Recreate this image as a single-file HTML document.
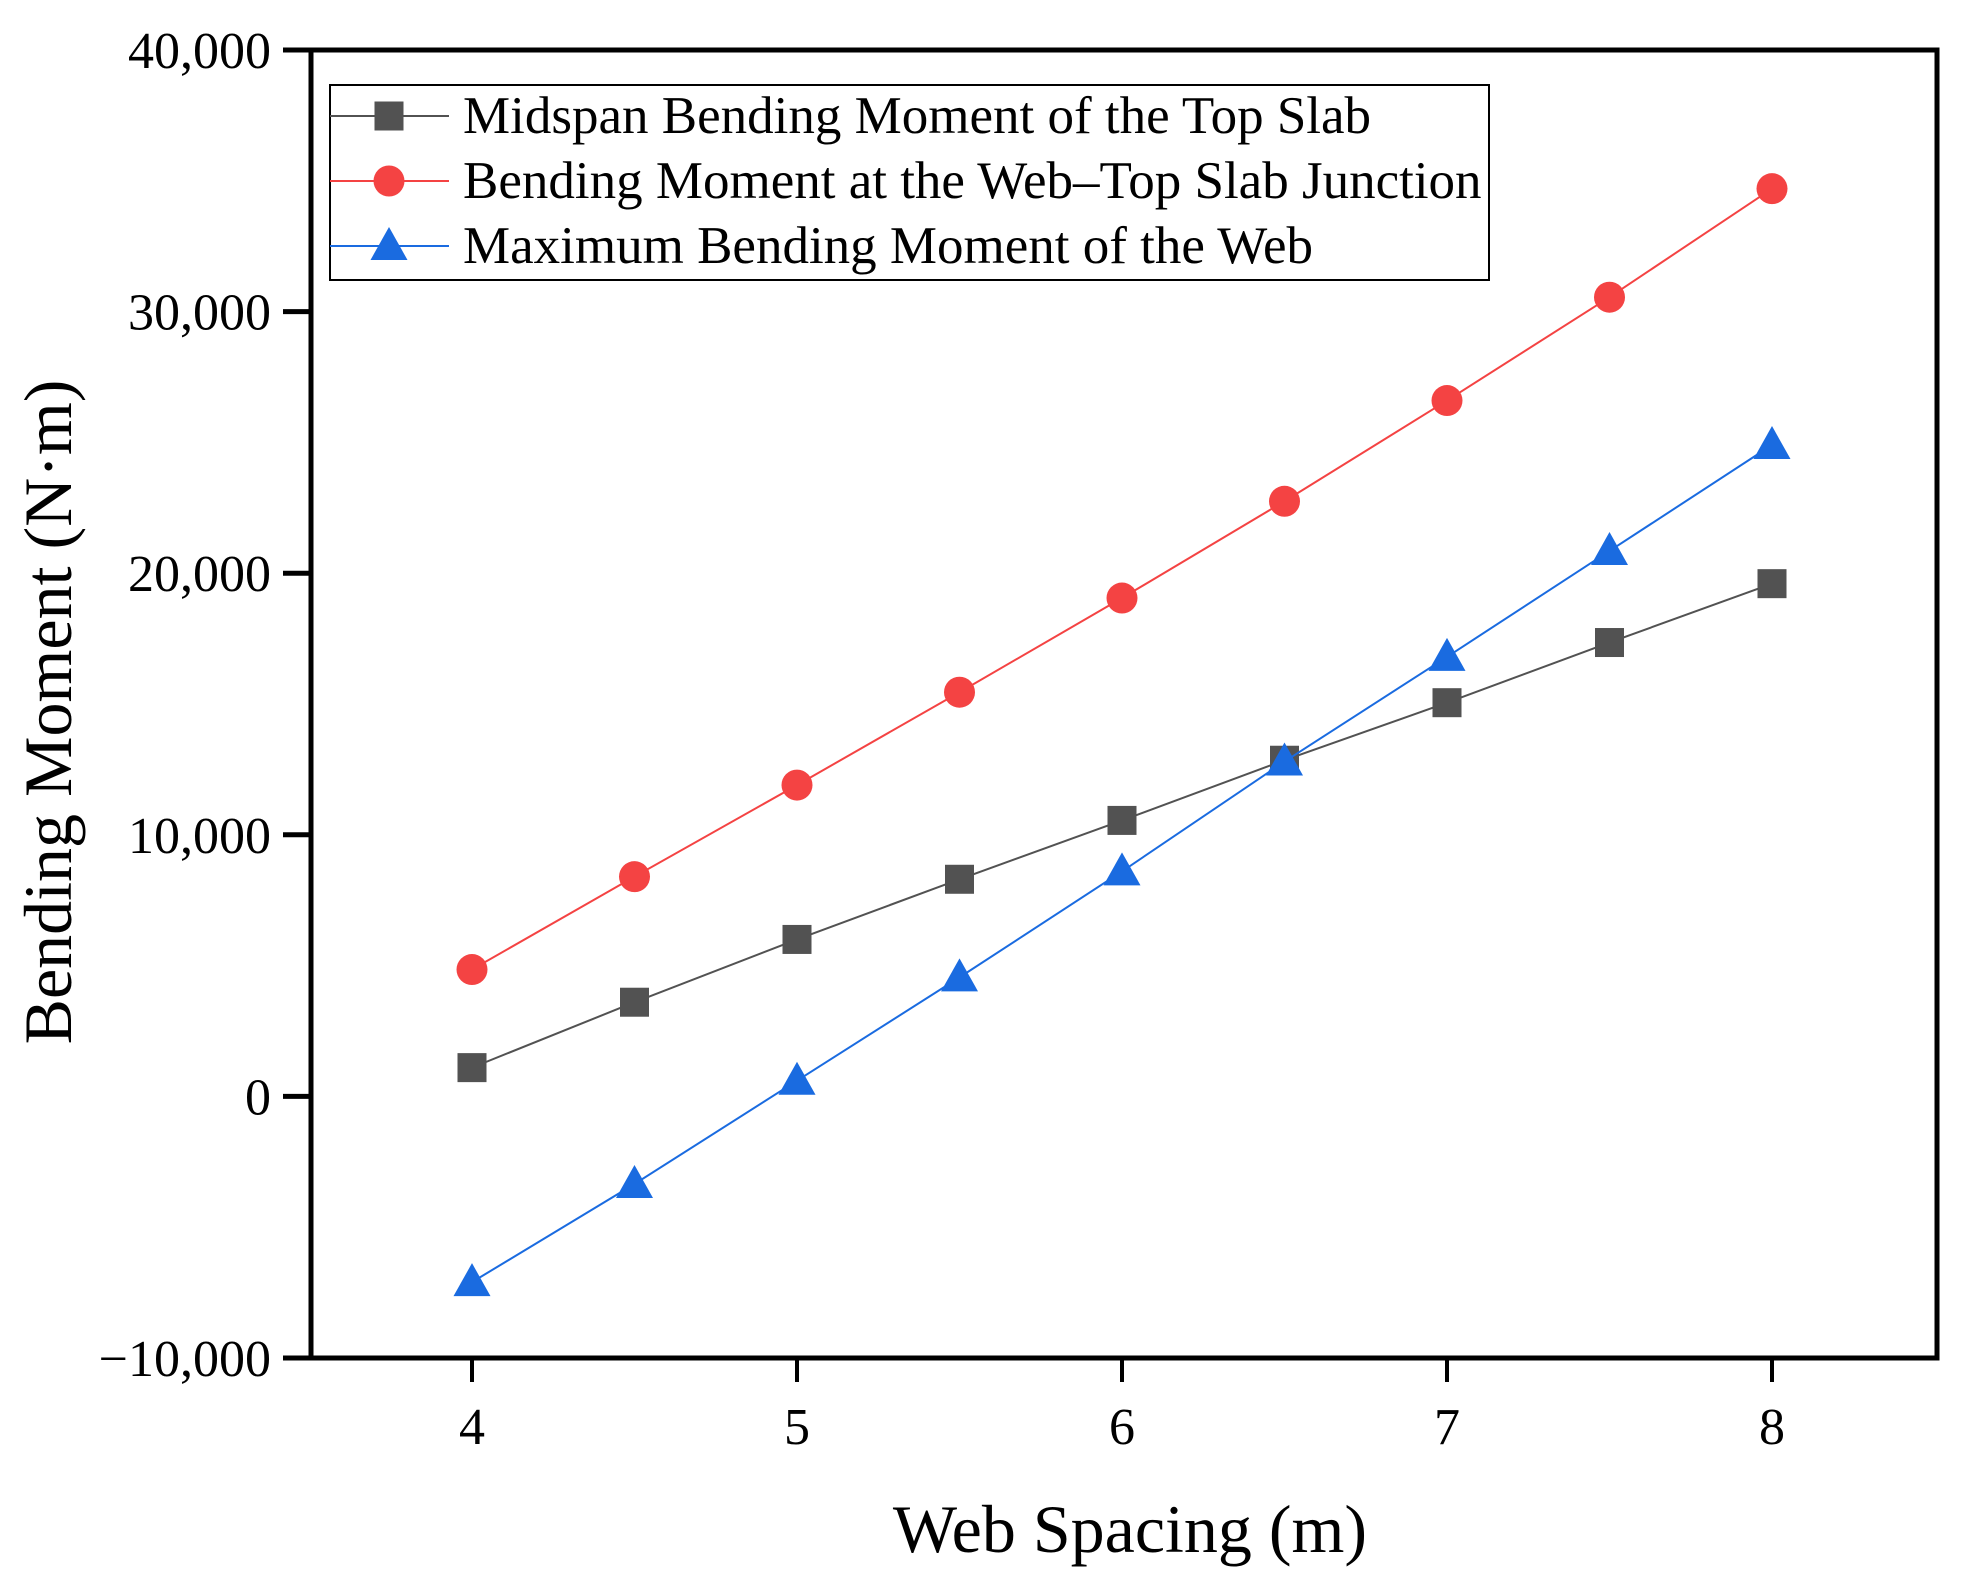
<!DOCTYPE html>
<html><head><meta charset="utf-8"><style>
html,body{margin:0;padding:0;background:#fff}
svg{display:block;font-family:"Liberation Serif",serif}
</style></head><body>
<svg id="chart" width="1962" height="1592" viewBox="0 0 1962 1592" xmlns="http://www.w3.org/2000/svg">
<rect width="1962" height="1592" fill="#fff"/>
<g id="axes"></g>
<g id="series"></g>
<g id="legend"></g>
</svg>
<script>
const categories = [4, 4.5, 5, 5.5, 6, 6.5, 7, 7.5, 8];
const midspanValues = [1100, 3600, 6000, 8300, 10550, 12850, 15050, 17350, 19600];
const junctionValues = [4850, 8400, 11900, 15450, 19050, 22750, 26600, 30550, 34700];
const webValues = [-7100, -3350, 600, 4550, 8600, 12800, 16800, 20850, 24900];
const xTicks = [4, 5, 6, 7, 8];
const yTicks = [-10000, 0, 10000, 20000, 30000, 40000];
const yTickLabels = ["\u221210,000", "0", "10,000", "20,000", "30,000", "40,000"];

const NS = "http://www.w3.org/2000/svg";
const L = 311, R = 1937, T = 50, B = 1358;
function xs(v){ return 472 + (v - 4) * 325; }
function ys(v){ return B - (v + 10000) / 50000 * (B - T); }
function mk(tag, attrs, parent){
  const e = document.createElementNS(NS, tag);
  for (const k in attrs) e.setAttribute(k, attrs[k]);
  parent.appendChild(e);
  return e;
}
const axes = document.getElementById("axes");
const frame = mk("rect", {x:L, y:T, width:R-L, height:B-T, fill:"none", stroke:"#000", "stroke-width":5}, axes);



yTicks.forEach((v, i) => {
  const t = mk("line", {x1:L-28, x2:L, y1:ys(v), y2:ys(v), stroke:"#000", "stroke-width":5}, axes);
  
  
  const lb = mk("text", {x:L-40, y:ys(v)+18, "text-anchor":"end", "font-size":52}, axes);
  lb.textContent = yTickLabels[i];
  
  
});
xTicks.forEach(v => {
  const t = mk("line", {x1:xs(v), x2:xs(v), y1:B, y2:B+24, stroke:"#000", "stroke-width":4}, axes);
  
  
  const lb = mk("text", {x:xs(v), y:B+86, "text-anchor":"middle", "font-size":52}, axes);
  lb.textContent = String(v);
  
  
});
const xt = mk("text", {x:1130, y:1552, "text-anchor":"middle", "font-size":68}, axes);
xt.textContent = "Web Spacing (m)";


const yt = mk("text", {x:0, y:0, "text-anchor":"middle", "font-size":68, transform:"translate(71,712) rotate(-90)"}, axes);
yt.textContent = "Bending Moment (N\u00b7m)";



function marker(kind, cx, cy, color, parent){
  let e;
  if (kind === "square") e = mk("rect", {x:cx-14.5, y:cy-14.5, width:29, height:29, fill:color}, parent);
  else if (kind === "circle") e = mk("circle", {cx:cx, cy:cy, r:15.5, fill:color}, parent);
  else e = mk("polygon", {points:(cx-18.5)+","+(cy+14)+" "+(cx+18.5)+","+(cy+14)+" "+cx+","+(cy-19), fill:color}, parent);
  return e;
}
const seriesDefs = [
  {name:"midspan", vals:midspanValues, color:"#525252", kind:"square", label:"Midspan Bending Moment of the Top Slab"},
  {name:"junction", vals:junctionValues, color:"#f44343", kind:"circle", label:"Bending Moment at the Web\u2013Top Slab Junction"},
  {name:"web", vals:webValues, color:"#1a6be0", kind:"triangle", label:"Maximum Bending Moment of the Web"}
];
const sg = document.getElementById("series");
seriesDefs.forEach(s => {
  const g = mk("g", {}, sg);
  
  
  const pts = categories.map((c, i) => xs(c) + "," + ys(s.vals[i])).join(" ");
  const pl = mk("polyline", {points:pts, fill:"none", stroke:s.color, "stroke-width":2}, g);
  
  
  categories.forEach((c, i) => {
    const m = marker(s.kind, xs(c), ys(s.vals[i]), s.color, g);
    
    
  });
});

const lg = document.getElementById("legend");
const box = mk("rect", {x:330, y:85, width:1159, height:195, fill:"#fff", stroke:"#000", "stroke-width":2}, lg);


const rowsY = [116, 181, 246];
seriesDefs.forEach((s, i) => {
  const g = mk("g", {}, lg);
  
  
  mk("line", {x1:330, x2:449, y1:rowsY[i], y2:rowsY[i], stroke:s.color, "stroke-width":2}, g);
  marker(s.kind, 389, rowsY[i], s.color, g);
  const t = mk("text", {x:463, y:rowsY[i]+17, "font-size":53}, g);
  t.textContent = s.label;
});
</script>
</body></html>
